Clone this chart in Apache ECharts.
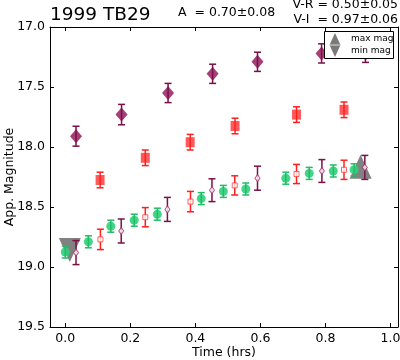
<!DOCTYPE html>
<html><head><meta charset="utf-8">
<script src="https://cdn.jsdelivr.net/npm/echarts@6/dist/echarts.min.js"></script>
<style>html,body{margin:0;padding:0;background:#fff}#c{width:400px;height:360px}</style>
</head><body><div id="c"></div>
<script>
// tick labels
const xTicks = [0.0, 0.2, 0.4, 0.6, 0.8, 1.0];
const yTicks = [17.0, 17.5, 18.0, 18.5, 19.0, 19.5];

// purple filled diamonds
const pdX = [0.033, 0.173, 0.316, 0.453, 0.591, 0.788, 0.923];
const pdY = [17.91, 17.73, 17.55, 17.39, 17.29, 17.22, 17.22];
const pdE = [0.083, 0.085, 0.08, 0.08, 0.08, 0.08, 0.075];

// red filled squares
const rsX = [0.107, 0.246, 0.384, 0.522, 0.711, 0.857];
const rsY = [18.275, 18.09, 17.96, 17.825, 17.73, 17.69];
const rsE = [0.065, 0.065, 0.065, 0.065, 0.065, 0.065];

// green circles
const gcX = [0.0, 0.071, 0.14, 0.212, 0.283, 0.418, 0.486, 0.555, 0.678, 0.75, 0.824, 0.888];
const gcY = [18.875, 18.79, 18.66, 18.61, 18.56, 18.43, 18.37, 18.35, 18.26, 18.22, 18.2, 18.19];
const gcE = [0.05, 0.05, 0.05, 0.05, 0.05, 0.05, 0.05, 0.05, 0.05, 0.05, 0.05, 0.05];

// red open squares
const roX = [0.108, 0.246, 0.385, 0.521, 0.711, 0.857];
const roY = [18.77, 18.585, 18.455, 18.32, 18.225, 18.19];
const roE = [0.085, 0.08, 0.085, 0.08, 0.08, 0.08];

// purple open diamonds
const poX = [0.033, 0.172, 0.314, 0.451, 0.591, 0.789, 0.921];
const poY = [18.88, 18.70, 18.52, 18.36, 18.26, 18.20, 18.17];
const poE = [0.1, 0.1, 0.1, 0.095, 0.1, 0.095, 0.1];

// max / min mag markers
const maxMag = [0.908, 18.165];
const minMag = [0.014, 18.858];

const FONT = 'DejaVu Sans';
const purple = '#9a2a68', purpleBar = '#7a1046';
const red = '#ff3d3d', redBar = '#ff1f1f';
const green = '#2fd07a', greenBar = '#22bb66';

function pts(xs, ys) { return xs.map((x, i) => [x, ys[i]]); }
function errPts(xs, ys, es) { return xs.map((x, i) => [x, ys[i], es[i]]); }

function errSeries(xs, ys, es, color, cap, z) {
  return {
    type: 'custom', z: z, silent: true,
    data: errPts(xs, ys, es),
    encode: { x: 0, y: 1 },
    renderItem: function (params, api) {
      const x = api.value(0), y = api.value(1), e = api.value(2);
      const t = api.coord([x, y - e]), b = api.coord([x, y + e]);
      const st = { stroke: color, lineWidth: 1.5 };
      return {
        type: 'group', children: [
          { type: 'line', shape: { x1: t[0], y1: t[1], x2: b[0], y2: b[1] }, style: st },
          { type: 'line', shape: { x1: t[0] - cap, y1: t[1], x2: t[0] + cap, y2: t[1] }, style: st },
          { type: 'line', shape: { x1: b[0] - cap, y1: b[1], x2: b[0] + cap, y2: b[1] }, style: st }
        ]
      };
    }
  };
}

const axisCommon = {
  type: 'value',
  axisLine: { show: true, onZero: false, lineStyle: { color: '#000', width: 1 } },
  axisTick: { show: true, inside: true, length: 4, lineStyle: { color: '#000', width: 1 } },
  splitLine: { show: false },
  axisLabel: { color: '#000', fontFamily: FONT, fontSize: 12.5 }
};

const chart = echarts.init(document.getElementById('c'), null, { renderer: 'canvas' });
chart.setOption({
  animation: false,
  backgroundColor: '#fff',
  grid: { left: 50, right: 2, top: 27, bottom: 33, containLabel: false, outerBoundsMode: 'none' },
  xAxis: [
    Object.assign({}, axisCommon, {
      min: -0.047, max: 1.023, position: 'bottom',
      axisTick: Object.assign({}, axisCommon.axisTick, { customValues: xTicks }),
      axisLabel: Object.assign({}, axisCommon.axisLabel, { customValues: xTicks, margin: 5,
        formatter: v => v.toFixed(1) }),
      name: 'Time (hrs)', nameLocation: 'middle', nameGap: 19, nameMoveOverlap: false,
      nameTextStyle: { color: '#000', fontFamily: FONT, fontSize: 12.5 }
    }),
    Object.assign({}, axisCommon, {
      min: -0.047, max: 1.023, position: 'top',
      axisTick: Object.assign({}, axisCommon.axisTick, { customValues: xTicks }),
      axisLabel: { show: false }
    })
  ],
  yAxis: [
    Object.assign({}, axisCommon, {
      min: 17, max: 19.5, inverse: true, position: 'left',
      axisTick: Object.assign({}, axisCommon.axisTick, { customValues: yTicks }),
      axisLabel: Object.assign({}, axisCommon.axisLabel, { customValues: yTicks, margin: 5,
        formatter: v => v.toFixed(1) }),
      name: 'App. Magnitude', nameLocation: 'middle', nameGap: 34, nameMoveOverlap: false,
      nameTextStyle: { color: '#000', fontFamily: FONT, fontSize: 12.5 }
    }),
    Object.assign({}, axisCommon, {
      min: 17, max: 19.5, inverse: true, position: 'right',
      axisTick: Object.assign({}, axisCommon.axisTick, { customValues: yTicks }),
      axisLabel: { show: false }
    })
  ],
  series: [
    { type: 'scatter', z: 1, symbol: 'triangle', symbolSize: [22, 24], data: [maxMag],
      itemStyle: { color: '#7a7a7a', opacity: 0.95 }, silent: true },
    { type: 'scatter', z: 1, symbol: 'triangle', symbolRotate: 180, symbolSize: [22, 24], data: [minMag],
      itemStyle: { color: '#7a7a7a', opacity: 0.95 }, silent: true },

    { type: 'scatter', z: 3, symbol: 'circle', symbolSize: 9, data: pts(gcX, gcY),
      itemStyle: { color: green, opacity: 0.9 } },
    errSeries(gcX, gcY, gcE, greenBar, 3.5, 4),

    { type: 'scatter', z: 3, symbol: 'rect', symbolSize: [9, 10], data: pts(rsX, rsY),
      itemStyle: { color: red, opacity: 0.85 } },
    errSeries(rsX, rsY, rsE, redBar, 3.5, 4),

    { type: 'scatter', z: 3, symbol: 'diamond', symbolSize: [12, 14], data: pts(pdX, pdY),
      itemStyle: { color: purple, opacity: 0.9 } },
    errSeries(pdX, pdY, pdE, purpleBar, 3.5, 4),

    errSeries(roX, roY, roE, redBar, 3.5, 4),
    { type: 'scatter', z: 5, symbol: 'rect', symbolSize: [5, 5], data: pts(roX, roY),
      itemStyle: { color: '#fff', borderColor: red, borderWidth: 1 } },

    errSeries(poX, poY, poE, purpleBar, 3.5, 4),
    { type: 'scatter', z: 5, symbol: 'diamond', symbolSize: [5, 7], data: pts(poX, poY),
      itemStyle: { color: '#fff', borderColor: purple, borderWidth: 1 } }
  ],
  graphic: [
    { type: 'text', left: 50, top: 6, z: 10,
      style: { text: '1999 TB29', fontFamily: FONT, fontSize: 18.5, fill: '#000' } },
    { type: 'text', left: 178, top: 6, z: 10,
      style: { text: 'A  = 0.70\u00b10.08', fontFamily: FONT, fontSize: 12.5, fill: '#000' } },
    { type: 'text', right: 2, top: -2, z: 10,
      style: { text: 'V-R = 0.50\u00b10.05', fontFamily: FONT, fontSize: 12.5, fill: '#000', textAlign: 'right' } },
    { type: 'text', right: 2, top: 13, z: 10,
      style: { text: 'V-I  = 0.97\u00b10.06', fontFamily: FONT, fontSize: 12.5, fill: '#000', textAlign: 'right' } },
    // legend box
    { type: 'rect', z: 20, shape: { x: 324.5, y: 31.5, width: 69, height: 27 },
      style: { fill: '#fff', stroke: '#000', lineWidth: 1 } },
    { type: 'polygon', z: 21, shape: { points: [[335, 33], [329.5, 45], [340.5, 45]] },
      style: { fill: '#7a7a7a' } },
    { type: 'polygon', z: 21, shape: { points: [[329.5, 45], [340.5, 45], [335, 57]] },
      style: { fill: '#7a7a7a' } },
    { type: 'line', z: 22, shape: { x1: 329, y1: 45, x2: 341, y2: 45 },
      style: { stroke: '#ddd', lineWidth: 1 } },
    { type: 'text', z: 22, x: 351, y: 39,
      style: { text: 'max mag', fontFamily: FONT, fontSize: 9, fill: '#000', textVerticalAlign: 'middle' } },
    { type: 'text', z: 22, x: 351, y: 51,
      style: { text: 'min mag', fontFamily: FONT, fontSize: 9, fill: '#000', textVerticalAlign: 'middle' } }
  ]
});
</script>
</body></html>
